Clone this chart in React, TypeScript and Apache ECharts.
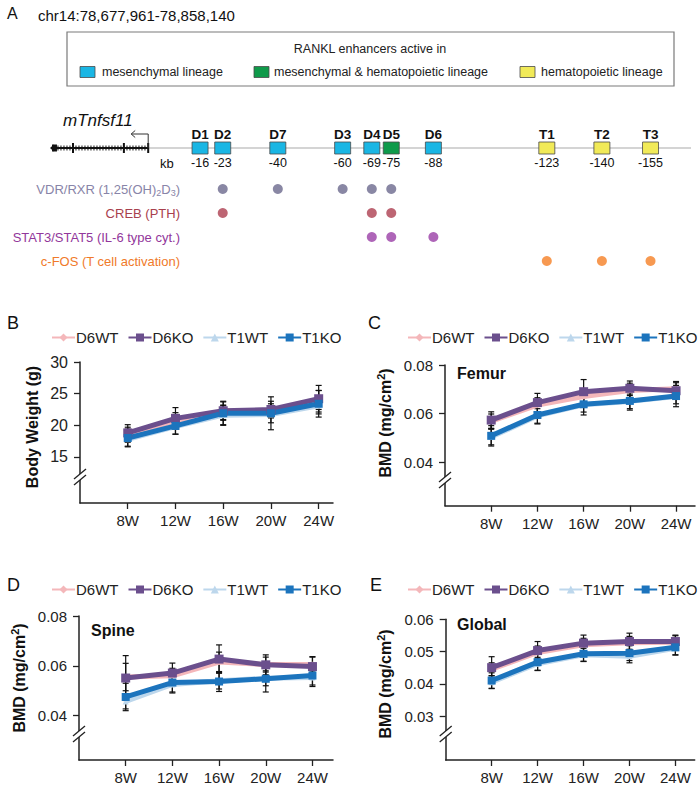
import React, { useEffect, useRef } from 'react';
import * as echarts from 'echarts';

const FONT = "'Liberation Sans', Arial, Helvetica, sans-serif";

// ---------- Panel A data ----------
const regionLabel = 'chr14:78,677,961-78,858,140';
const enhancerNames = ['D1', 'D2', 'D7', 'D3', 'D4', 'D5', 'D6', 'T1', 'T2', 'T3'];
const enhancerKb = [-16, -23, -40, -60, -69, -75, -88, -123, -140, -155];
const enhancerLineage = [0, 0, 0, 0, 0, 1, 0, 2, 2, 2];
const lineageNames = ['mesenchymal lineage', 'mesenchymal & hematopoietic lineage', 'hematopoietic lineage'];
const factorRows = ['VDR/RXR (1,25(OH)2D3)', 'CREB (PTH)', 'STAT3/STAT5 (IL-6 type cyt.)', 'c-FOS (T cell activation)'];
const vdrSites = [-23, -40, -60, -69, -75];
const crebSites = [-23, -69, -75];
const statSites = [-69, -75, -88];
const cfosSites = [-123, -140, -155];
const geneKb = [0, 30];
const geneExonKb = [0, 7.5, 23.2];
const trackEndKb = -167.5;

// ---------- Panels B-E data ----------
const weeks = ['8W', '12W', '16W', '20W', '24W'];
const groups = ['D6WT', 'D6KO', 'T1WT', 'T1KO'];

const bwD6WT = [18.5, 20.7, 22.0, 22.3, 24.0];
const bwD6KO = [18.8, 21.1, 22.3, 22.5, 24.2];
const bwT1WT = [17.8, 19.8, 21.6, 21.7, 23.1];
const bwT1KO = [18.0, 19.9, 21.9, 21.9, 23.4];
const bwD6WTErr = [1.2, 1.3, 1.2, 1.1, 1.5];
const bwD6KOErr = [1.3, 1.7, 1.4, 1.3, 2.1];
const bwT1WTErr = [1.1, 1.2, 1.5, 1.3, 1.3];
const bwT1KOErr = [1.4, 1.3, 1.9, 2.6, 2.1];

const femD6WT = [0.0568, 0.0635, 0.067, 0.0695, 0.0702];
const femD6KO = [0.0573, 0.0645, 0.069, 0.0704, 0.0694];
const femT1WT = [0.0503, 0.059, 0.0636, 0.065, 0.067];
const femT1KO = [0.0508, 0.0594, 0.0638, 0.0652, 0.0672];
const femD6WTErr = [0.003, 0.003, 0.003, 0.003, 0.003];
const femD6KOErr = [0.0034, 0.0038, 0.005, 0.003, 0.0033];
const femT1WTErr = [0.0032, 0.003, 0.003, 0.003, 0.003];
const femT1KOErr = [0.0042, 0.0037, 0.0044, 0.0038, 0.0044];

const spD6WT = [0.0555, 0.056, 0.0615, 0.0605, 0.0605];
const spD6KO = [0.0551, 0.0571, 0.0627, 0.0604, 0.0597];
const spT1WT = [0.0457, 0.0525, 0.054, 0.055, 0.0553];
const spT1KO = [0.0475, 0.0533, 0.0537, 0.0548, 0.0561];
const spD6WTErr = [0.0055, 0.003, 0.004, 0.003, 0.003];
const spD6KOErr = [0.009, 0.004, 0.0057, 0.004, 0.004];
const spT1WTErr = [0.003, 0.003, 0.0033, 0.003, 0.003];
const spT1KOErr = [0.0055, 0.0042, 0.004, 0.0053, 0.0044];

const glD6WT = [0.0445, 0.0497, 0.0521, 0.0527, 0.0529];
const glD6KO = [0.045, 0.0503, 0.0526, 0.0531, 0.0531];
const glT1WT = [0.0405, 0.0462, 0.049, 0.0485, 0.051];
const glT1KO = [0.041, 0.0467, 0.0493, 0.0495, 0.0513];
const glD6WTErr = [0.002, 0.002, 0.002, 0.002, 0.002];
const glD6KOErr = [0.0034, 0.0028, 0.0025, 0.0026, 0.002];
const glT1WTErr = [0.002, 0.002, 0.002, 0.002, 0.002];
const glT1KOErr = [0.0024, 0.0026, 0.0024, 0.0023, 0.0024];

const bwTicks = [15, 20, 25, 30];
const femTicks = [0.04, 0.06, 0.08];
const spTicks = [0.04, 0.06, 0.08];
const glTicks = [0.03, 0.04, 0.05, 0.06];

// ---------- styles / layout ----------
const lineageColors = ['#1ab6e4', '#0f9a4a', '#f1ea58'];
const rowColors = ['#8884a8', '#a8404d', '#92379b', '#f07a2a'];
const dotColors = ['#6c698d', '#ad3f50', '#9a3ea6', '#f58025'];
const groupStyle = [
  { color: '#f4b7ba', symbol: 'diamond', size: 6 },
  { color: '#6b4f8d', symbol: 'rect', size: 9 },
  { color: '#bdd7ec', symbol: 'triangle', size: 6 },
  { color: '#1c74bd', symbol: 'rect', size: 8 },
];
const drawOrder = [0, 2, 1, 3];

const panels = [
  {
    letter: 'B', lx: 7, ly: 323,
    grid: { left: 80, top: 362, width: 253, height: 141 },
    xMax: 5.3, yMin: 7.73, yMax: 30, ticks: bwTicks, dec: 0,
    means: [bwD6WT, bwD6KO, bwT1WT, bwT1KO],
    errs: [bwD6WTErr, bwD6KOErr, bwT1WTErr, bwT1KOErr],
    legend: { left: 46, top: 325 },
    title: 'Body Weight (g)', tx: 32, ty: 427,
    inner: null, breakY: 477,
  },
  {
    letter: 'C', lx: 368, ly: 323,
    grid: { left: 445, top: 365, width: 250, height: 140.7 },
    xMax: 5.41, yMin: 0.022, yMax: 0.08, ticks: femTicks, dec: 2,
    means: [femD6WT, femD6KO, femT1WT, femT1KO],
    errs: [femD6WTErr, femD6KOErr, femT1WTErr, femT1KOErr],
    legend: { left: 402, top: 325 },
    title: 'BMD (mg/cm{sup|2})', tx: 385, ty: 423,
    inner: { text: 'Femur', x: 457, y: 373 }, breakY: 480,
  },
  {
    letter: 'D', lx: 7, ly: 585,
    grid: { left: 79, top: 616, width: 254, height: 144 },
    xMax: 5.44, yMin: 0.0222, yMax: 0.08, ticks: spTicks, dec: 2,
    means: [spD6WT, spD6KO, spT1WT, spT1KO],
    errs: [spD6WTErr, spD6KOErr, spT1WTErr, spT1KOErr],
    legend: { left: 46, top: 577 },
    title: 'BMD (mg/cm{sup|2})', tx: 19, ty: 678,
    inner: { text: 'Spine', x: 91, y: 630 }, breakY: 734,
  },
  {
    letter: 'E', lx: 370, ly: 585,
    grid: { left: 445.7, top: 619.3, width: 249, height: 140.7 },
    xMax: 5.42, yMin: 0.01635, yMax: 0.06, ticks: glTicks, dec: 2,
    means: [glD6WT, glD6KO, glT1WT, glT1KO],
    errs: [glD6WTErr, glD6KOErr, glT1WTErr, glT1KOErr],
    legend: { left: 402, top: 577 },
    title: 'BMD (mg/cm{sup|2})', tx: 385, ty: 684,
    inner: { text: 'Global', x: 457, y: 624 }, breakY: 734,
  },
];

const TRACK_X = { left: 50, width: 642 };
const KB_MIN = -167.8;
const KB_MAX = 30.3;

function renderGene(params: any, api: any) {
  const y = api.coord([0, 0])[1];
  const xT = api.coord([geneKb[0], 0])[0];
  const xE = api.coord([geneKb[1], 0])[0];
  const xR = api.coord([trackEndKb, 0])[0];
  const ink = '#111';
  const children: any[] = [];
  children.push({ type: 'line', shape: { x1: xT, y1: y, x2: xR, y2: y }, style: { stroke: '#a9a9a9', lineWidth: 1.2 } });
  children.push({ type: 'line', shape: { x1: xE + 3, y1: y, x2: xT, y2: y }, style: { stroke: ink, lineWidth: 2 } });
  for (let x = xE + 7; x < xT - 1; x += 3) {
    children.push({ type: 'line', shape: { x1: x, y1: y - 2.5, x2: x, y2: y + 2.5 }, style: { stroke: ink, lineWidth: 1 } });
  }
  geneExonKb.forEach((k) => {
    const x = api.coord([k, 0])[0];
    children.push({ type: 'line', shape: { x1: x, y1: y - 5, x2: x, y2: y + 5 }, style: { stroke: ink, lineWidth: 2 } });
  });
  children.push({ type: 'rect', shape: { x: xE + 1, y: y - 3.5, width: 5, height: 7 }, style: { fill: ink } });
  children.push({ type: 'polygon', shape: { points: [[xE - 1, y], [xE + 3, y - 3.5], [xE + 3, y + 3.5]] }, style: { fill: ink } });
  children.push({ type: 'polyline', shape: { points: [[xT, y], [xT, y - 14], [xT - 17, y - 14]] }, style: { stroke: '#333', lineWidth: 1, fill: null } });
  children.push({ type: 'polyline', shape: { points: [[xT - 13, y - 17.5], [xT - 17, y - 14], [xT - 13, y - 10.5]] }, style: { stroke: '#333', lineWidth: 1, fill: null } });
  return { type: 'group', children };
}

function renderEnhancer(params: any, api: any) {
  const i = params.dataIndex;
  const c = api.coord([api.value(0), 0]);
  return {
    type: 'group',
    children: [
      { type: 'rect', shape: { x: c[0] - 8, y: c[1] - 6, width: 16, height: 12 }, style: { fill: lineageColors[enhancerLineage[i]], stroke: '#4a4a4a', lineWidth: 0.8 } },
      { type: 'text', x: c[0], y: c[1] - 14, style: { text: enhancerNames[i], font: `bold 13.5px ${FONT}`, fill: '#111', align: 'center', verticalAlign: 'middle' } },
      { type: 'text', x: c[0], y: c[1] + 15, style: { text: String(enhancerKb[i]), font: `12.5px ${FONT}`, fill: '#111', align: 'center', verticalAlign: 'middle' } },
    ],
  };
}

function renderErr(params: any, api: any) {
  const lo = api.coord([api.value(0), api.value(1)]);
  const hi = api.coord([api.value(0), api.value(2)]);
  const x = lo[0];
  const st = { stroke: '#111', lineWidth: 1.2 };
  return {
    type: 'group',
    children: [
      { type: 'line', shape: { x1: x, y1: lo[1], x2: x, y2: hi[1] }, style: st },
      { type: 'line', shape: { x1: x - 3, y1: lo[1], x2: x + 3, y2: lo[1] }, style: st },
      { type: 'line', shape: { x1: x - 3, y1: hi[1], x2: x + 3, y2: hi[1] }, style: st },
    ],
  };
}

function breakMarks(ax: number, cy: number) {
  return [
    { type: 'rect', shape: { x: ax - 3, y: cy - 3, width: 6, height: 6 }, style: { fill: '#fff' }, z: 100 },
    { type: 'line', shape: { x1: ax - 6, y1: cy + 2, x2: ax + 6, y2: cy - 8 }, style: { stroke: '#222', lineWidth: 1.3 }, z: 101 },
    { type: 'line', shape: { x1: ax - 6, y1: cy + 8, x2: ax + 6, y2: cy - 2 }, style: { stroke: '#222', lineWidth: 1.3 }, z: 101 },
  ];
}

function buildOption() {
  const grid: any[] = [
    { left: TRACK_X.left, width: TRACK_X.width, top: 140, height: 16 },
    { left: TRACK_X.left, width: TRACK_X.width, top: 177, height: 96 },
  ];
  const xAxis: any[] = [
    { type: 'value', gridIndex: 0, min: KB_MIN, max: KB_MAX, inverse: true, show: false },
    { type: 'value', gridIndex: 1, min: KB_MIN, max: KB_MAX, inverse: true, show: false },
  ];
  const yAxis: any[] = [
    { type: 'category', gridIndex: 0, data: ['track'], show: false },
    {
      type: 'category', gridIndex: 1, data: factorRows, inverse: true, offset: -130,
      axisLine: { show: false }, axisTick: { show: false }, splitLine: { show: false },
      axisLabel: {
        margin: 0, fontSize: 13, fontFamily: FONT,
        color: (v: any, i: number) => rowColors[i],
        formatter: (v: string) => (v.startsWith('VDR') ? '{n|VDR/RXR (1,25(OH)}{s|2}{n|D}{s|3}{n|)}' : v),
        rich: {
          n: { fontSize: 13, fontFamily: FONT, color: rowColors[0], lineHeight: 16 },
          s: { fontSize: 9, fontFamily: FONT, color: rowColors[0], lineHeight: 9, verticalAlign: 'bottom' },
        },
      },
    },
  ];
  const series: any[] = [
    { type: 'custom', name: 'gene', xAxisIndex: 0, yAxisIndex: 0, data: [[0, 0]], renderItem: renderGene, silent: true },
    { type: 'custom', name: 'enhancers', xAxisIndex: 0, yAxisIndex: 0, data: enhancerKb.map((k) => [k, 0]), renderItem: renderEnhancer, silent: true, z: 3 },
  ];
  [vdrSites, crebSites, statSites, cfosSites].forEach((sites, r) => {
    series.push({
      type: 'scatter', name: factorRows[r], xAxisIndex: 1, yAxisIndex: 1,
      data: sites.map((k) => [k, factorRows[r]]), symbolSize: 10,
      itemStyle: { color: dotColors[r] }, silent: true,
    });
  });

  const legend: any[] = [];
  const graphic: any[] = [
    { type: 'text', x: 7, y: 13, style: { text: 'A', font: `16px ${FONT}`, fill: '#111', verticalAlign: 'middle' } },
    { type: 'text', x: 38, y: 15, style: { text: regionLabel, font: `15px ${FONT}`, fill: '#111', verticalAlign: 'middle' } },
    { type: 'rect', shape: { x: 67, y: 32, width: 607, height: 54 }, style: { fill: '#fff', stroke: '#7a7a7a', lineWidth: 1.2 } },
    { type: 'text', x: 370, y: 49, style: { text: 'RANKL enhancers active in', font: `12.5px ${FONT}`, fill: '#222', align: 'center', verticalAlign: 'middle' } },
    { type: 'text', x: 63, y: 120, style: { text: 'mTnfsf11', font: `italic 17px ${FONT}`, fill: '#111', verticalAlign: 'middle' } },
    { type: 'text', x: 160, y: 163, style: { text: 'kb', font: `13px ${FONT}`, fill: '#111', verticalAlign: 'middle' } },
  ];
  const legendSq = [80, 254, 520];
  const legendTx = [102, 274, 541];
  lineageNames.forEach((n, i) => {
    graphic.push({ type: 'rect', shape: { x: legendSq[i], y: 66.5, width: 15, height: 11 }, style: { fill: lineageColors[i], stroke: '#4a4a4a', lineWidth: 0.8 } });
    graphic.push({ type: 'text', x: legendTx[i], y: 72, style: { text: n, font: `12.5px ${FONT}`, fill: '#222', verticalAlign: 'middle' } });
  });

  panels.forEach((p, pi) => {
    const ai = pi + 2;
    grid.push({ ...p.grid });
    xAxis.push({
      type: 'value', gridIndex: ai, min: 0, max: p.xMax,
      axisLine: { lineStyle: { color: '#222', width: 1.5 } },
      axisTick: { customValues: [1, 2, 3, 4, 5], length: 6, lineStyle: { color: '#222', width: 1.3 } },
      axisLabel: {
        customValues: [1, 2, 3, 4, 5], margin: 10, fontSize: 15, fontFamily: FONT, color: '#222',
        formatter: (v: number) => weeks[Math.round(v) - 1] ?? '',
      },
      splitLine: { show: false },
    });
    yAxis.push({
      type: 'value', gridIndex: ai, min: p.yMin, max: p.yMax,
      axisLine: { show: true, lineStyle: { color: '#222', width: 1.5 } },
      axisTick: { show: true, customValues: p.ticks, length: 6, lineStyle: { color: '#222', width: 1.3 } },
      axisLabel: {
        customValues: p.ticks, margin: 12, fontSize: p.dec ? 15 : 16, fontFamily: FONT, color: '#222',
        formatter: (v: number) => v.toFixed(p.dec),
      },
      splitLine: { show: false },
    });
    const errData: number[][] = [];
    p.means.forEach((arr, gi) => arr.forEach((v, i) => errData.push([i + 1, v - p.errs[gi][i], v + p.errs[gi][i]])));
    series.push({ type: 'custom', name: 'err' + p.letter, xAxisIndex: ai, yAxisIndex: ai, z: 1, data: errData, renderItem: renderErr, silent: true });
    drawOrder.forEach((gi) => {
      const s = groupStyle[gi];
      series.push({
        type: 'line', name: groups[gi], xAxisIndex: ai, yAxisIndex: ai, z: 2,
        data: p.means[gi].map((v, i) => [i + 1, v]),
        symbol: s.symbol, symbolSize: s.size, showSymbol: true,
        lineStyle: { color: s.color, width: 5 }, itemStyle: { color: s.color },
        silent: true,
      });
    });
    legend.push({
      data: groups, left: p.legend.left, top: p.legend.top, width: 330, itemWidth: 23, itemHeight: 10, itemGap: 9,
      selectedMode: false, textStyle: { fontSize: 15, fontFamily: FONT, color: '#222', padding: [0, 0, 0, -4] },
    });
    graphic.push({ type: 'text', x: p.lx, y: p.ly, style: { text: p.letter, font: `18px ${FONT}`, fill: '#111', verticalAlign: 'middle' } });
    graphic.push({
      type: 'text', x: p.tx, y: p.ty, rotation: Math.PI / 2,
      style: {
        text: p.title, fontSize: 16, fontWeight: 'bold', fontFamily: FONT, fill: '#111', lineHeight: 20,
        align: 'center', verticalAlign: 'middle',
        rich: { sup: { fontSize: 11, fontWeight: 'bold', fontFamily: FONT, fill: '#111', lineHeight: 11, verticalAlign: 'top' } },
      },
    });
    if (p.inner) {
      graphic.push({ type: 'text', x: p.inner.x, y: p.inner.y, style: { text: p.inner.text, font: `bold 16px ${FONT}`, fill: '#111', verticalAlign: 'middle' } });
    }
    graphic.push(...breakMarks(p.grid.left, p.breakY));
  });

  return {
    animation: false,
    backgroundColor: '#fff',
    textStyle: { fontFamily: FONT },
    grid, xAxis, yAxis, series, legend, graphic,
  };
}

export default function App() {
  const ref = useRef<HTMLDivElement>(null);
  useEffect(() => {
    document.body.style.margin = '0';
    const chart = echarts.init(ref.current as HTMLDivElement, null, { renderer: 'svg' });
    chart.setOption(buildOption() as any);
    return () => chart.dispose();
  }, []);
  return <div ref={ref} style={{ width: 700, height: 790, background: '#fff' }} />;
}
